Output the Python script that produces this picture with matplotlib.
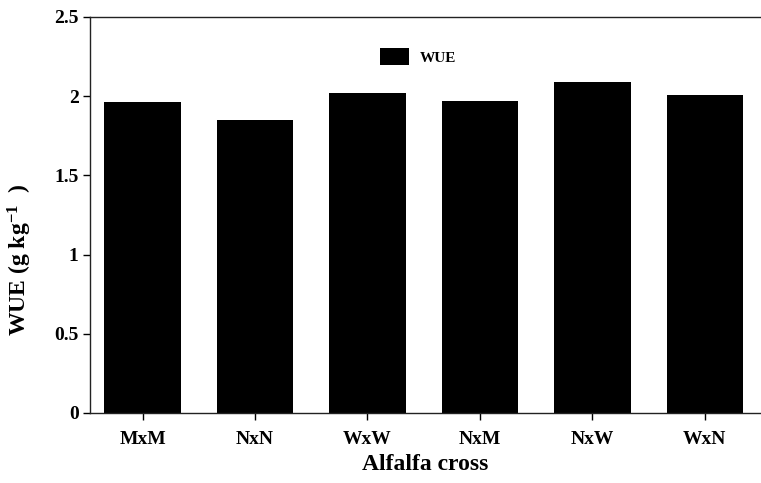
import matplotlib.pyplot as plt

# WUE by alfalfa cross
crosses = ["MxM", "NxN", "WxW", "NxM", "NxW", "WxN"]
wue = [1.965, 1.85, 2.02, 1.97, 2.09, 2.01]

plt.rcParams['font.family'] = ['Liberation Serif', 'DejaVu Serif']
plt.rcParams['font.weight'] = 'bold'
plt.rcParams['mathtext.fontset'] = 'custom'
plt.rcParams['mathtext.rm'] = 'Liberation Serif:bold'
plt.rcParams['mathtext.it'] = 'Liberation Serif:bold'
plt.rcParams['mathtext.bf'] = 'Liberation Serif:bold'

fig = plt.figure(figsize=(7.61, 4.83), dpi=100)
ax = fig.add_axes([0.118, 0.145, 0.882, 0.82])

x = range(len(crosses))
ax.bar(x, wue, width=0.68, color='black', label='WUE')

ax.set_xlim(-0.47, 5.5)
ax.set_ylim(0, 2.5)
ax.set_yticks([0, 0.5, 1, 1.5, 2, 2.5])
ax.set_yticklabels(["0", "0.5", "1", "1.5", "2", "2.5"])
ax.set_xticks(list(x))
ax.set_xticklabels(crosses)

ax.spines['right'].set_visible(False)
for s in ['left', 'bottom', 'top']:
    ax.spines[s].set_linewidth(1.0)
    ax.spines[s].set_color('#222222')
ax.tick_params(axis='y', direction='out', length=5, width=1, labelsize=14, pad=3)
ax.tick_params(axis='x', direction='out', length=5, width=1, labelsize=14, pad=8)

ax.set_xlabel("Alfalfa cross", fontsize=17, fontweight='bold', labelpad=4)
ax.set_ylabel(r"WUE (g kg$^{-1}$  )", fontsize=17, fontweight='bold')
ax.yaxis.set_label_coords(-0.083, 0.385)

ax.legend(loc='center', bbox_to_anchor=(0.489, 0.9), frameon=False,
          fontsize=11, handlelength=1.9, handleheight=1.3, handletextpad=0.7)

fig.savefig("out.png", dpi=100)
